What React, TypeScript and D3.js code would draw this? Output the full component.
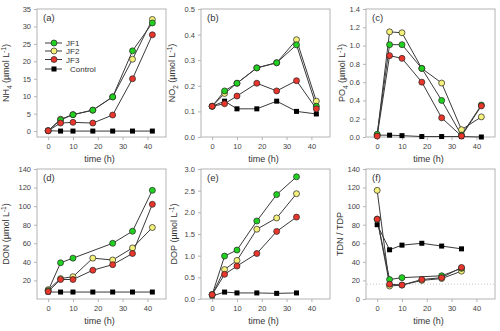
import React, { useEffect, useRef } from 'react'
import * as d3 from 'd3'

// sampling times (h)
const times = [0, 5, 10, 18, 26, 34, 42]

// (a) NH4
const nh4JF1 = [0.1, 3.2, 4.7, 6.0, 9.8, 23.0, 31.0]
const nh4JF2 = [0.1, 3.4, 4.7, 6.0, 9.8, 20.6, 32.0]
const nh4JF3 = [0.1, 2.3, 2.5, 2.3, 4.6, 15.0, 27.6]
const nh4Control = [0.1, 0.0, 0.0, 0.0, 0.0, 0.0, 0.0]

// (b) NO2
const no2JF1 = [0.12, 0.18, 0.21, 0.27, 0.29, 0.36, 0.12]
const no2JF2 = [0.12, 0.17, 0.21, 0.27, 0.29, 0.38, 0.14]
const no2JF3 = [0.12, 0.13, 0.16, 0.21, 0.18, 0.22, 0.11]
const no2Control = [0.12, 0.14, 0.11, 0.11, 0.14, 0.10, 0.09]

// (c) PO4
const po4JF1 = [0.03, 1.01, 1.01, 0.75, 0.40, 0.02, 0.35]
const po4JF2 = [0.02, 1.15, 1.14, 0.75, 0.59, 0.08, 0.22]
const po4JF3 = [0.01, 0.89, 0.86, 0.60, 0.21, 0.01, 0.34]
const po4Control = [0.02, 0.02, 0.015, 0.005, 0.005, 0.005, 0.0]

// (d) DON
const donJF1 = [9, 39, 44, null, 60, 73, 117]
const donJF2 = [10, 22, 24, 44, 42, 55, 77]
const donJF3 = [8, 21, 21, 31, 37, 49, 102]
const donControl = [7.5, 7.5, 7.5, 7.5, 7.5, 7.5, 7.5]

// (e) DOP
const dopJF1 = [0.1, 0.99, 1.13, 1.80, 2.41, 2.82, null]
const dopJF2 = [0.1, 0.68, 0.89, 1.61, 1.87, 2.43, null]
const dopJF3 = [0.1, 0.57, 0.76, 1.05, 1.56, 1.89, null]
const dopControl = [0.07, 0.16, 0.14, 0.14, 0.13, 0.14, null]

// (f) TDN / TDP
const ratioJF1 = [86, 21, 23, null, 25, 33, null]
const ratioJF2 = [117, 14, 15, 20, 22, 30, null]
const ratioJF3 = [86, 16, 15, 21, 23, 34, null]
const ratioControl = [80, 53, 58, 60, 57, 54, null]
const redfield = 16

const xTicks = [0, 10, 20, 30, 40]

const colors = { JF1: '#22d022', JF2: '#f4f07a', JF3: '#e8362c', Control: '#000' }
const legendNames = ['JF1', 'JF2', 'JF3', 'Control']

const panels = [
  { label: '(a)', title: ['NH', '4'], unit: true, x: 37, y: 9, h: 128, dom: [-1.7, 35], ticks: d3.range(0, 36, 5), fmt: d3.format('d'), tOff: 28,
    series: { JF1: nh4JF1, JF2: nh4JF2, JF3: nh4JF3, Control: nh4Control }, legend: true },
  { label: '(b)', title: ['NO', '2'], unit: true, x: 201, y: 9, h: 128, dom: [0, 0.5], ticks: d3.range(0, 0.51, 0.1), fmt: d3.format('.1f'), tOff: 26,
    series: { JF1: no2JF1, JF2: no2JF2, JF3: no2JF3, Control: no2Control } },
  { label: '(c)', title: ['PO', '4'], unit: true, x: 366, y: 9, h: 128, dom: [0, 1.4], ticks: d3.range(0, 1.41, 0.2), fmt: d3.format('.1f'), tOff: 21,
    series: { JF1: po4JF1, JF2: po4JF2, JF3: po4JF3, Control: po4Control } },
  { label: '(d)', title: ['DON', ''], unit: true, x: 37, y: 169, h: 130, dom: [0, 140], ticks: d3.range(20, 141, 20), fmt: d3.format('d'), tOff: 28,
    series: { JF1: donJF1, JF2: donJF2, JF3: donJF3, Control: donControl } },
  { label: '(e)', title: ['DOP', ''], unit: true, x: 201, y: 169, h: 130, dom: [0, 3], ticks: d3.range(0, 3.01, 0.5), fmt: d3.format('.1f'), tOff: 24,
    series: { JF1: dopJF1, JF2: dopJF2, JF3: dopJF3, Control: dopControl } },
  { label: '(f)', title: ['TDN / TDP', ''], unit: false, x: 366, y: 169, h: 130, dom: [0, 140], ticks: d3.range(0, 141, 20), fmt: d3.format('d'), tOff: 23,
    series: { JF1: ratioJF1, JF2: ratioJF2, JF3: ratioJF3, Control: ratioControl }, ref: redfield },
]

const W = 129
const font = '"Liberation Sans", Arial, sans-serif'
const textColor = '#333'

function App() {
  const ref = useRef(null)

  useEffect(() => {
    const svg = d3.select(ref.current)
    svg.selectAll('*').remove()

    panels.forEach((p) => {
      const x = d3.scaleLinear().domain([-4.5, 47.5]).range([p.x, p.x + W])
      const y = d3.scaleLinear().domain(p.dom).range([p.y + p.h, p.y])
      const g = svg.append('g')

      // frame
      g.append('rect')
        .attr('x', p.x).attr('y', p.y).attr('width', W).attr('height', p.h)
        .attr('fill', 'none').attr('stroke', '#b4b4b4').attr('stroke-width', 1)

      const yAxis = d3.axisLeft(y).tickValues(p.ticks).tickFormat(p.fmt).tickSize(3).tickPadding(3)
      const ya = g.append('g').attr('transform', `translate(${p.x},0)`).call(yAxis)
      const xAxis = d3.axisBottom(x).tickValues(xTicks).tickSize(3).tickPadding(4)
      const xa = g.append('g').attr('transform', `translate(0,${p.y + p.h})`).call(xAxis)
      ;[ya, xa].forEach((a) => {
        a.select('.domain').remove()
        a.selectAll('line').attr('stroke', '#b4b4b4')
        a.selectAll('text').attr('fill', '#444').style('font-family', font).style('font-size', '7.5px')
      })

      // x title
      g.append('text')
        .attr('x', p.x + W / 2 - 2).attr('y', p.y + p.h + 25)
        .attr('text-anchor', 'middle').attr('fill', textColor)
        .style('font-family', font).style('font-size', '9px').style('font-weight', 'normal')
        .text('time (h)')

      // y title
      const yt = g.append('text')
        .attr('transform', `translate(${p.x - p.tOff},${p.y + p.h / 2}) rotate(-90)`)
        .attr('text-anchor', 'middle').attr('fill', textColor)
        .style('font-family', font).style('font-size', '9px').style('font-weight', 'normal')
      yt.append('tspan').text(p.title[0])
      if (p.title[1]) yt.append('tspan').attr('dy', 2.5).style('font-size', '6.5px').text(p.title[1])
      if (p.unit) {
        yt.append('tspan').attr('dy', p.title[1] ? -2.5 : 0).text(' (µmol L')
        yt.append('tspan').attr('dy', -3.5).style('font-size', '6.5px').text('-1')
        yt.append('tspan').attr('dy', 3.5).text(')')
      }

      // panel label
      g.append('text')
        .attr('x', p.x + 6).attr('y', p.y + 12)
        .attr('fill', textColor)
        .style('font-family', font).style('font-size', '9.5px')
        .text(p.label)

      if (p.ref !== undefined) {
        g.append('line')
          .attr('x1', p.x + 1).attr('x2', p.x + W - 1)
          .attr('y1', y(p.ref)).attr('y2', y(p.ref))
          .attr('stroke', '#c8c8c8').attr('stroke-dasharray', '1,2')
      }

      const order = ['Control', 'JF2', 'JF1', 'JF3']
      const line = d3.line().x((d) => x(d[0])).y((d) => y(d[1]))
      const pts = (name) => times.map((t, i) => [t, p.series[name][i]]).filter((d) => d[1] !== null)

      order.forEach((name) => {
        g.append('path').attr('d', line(pts(name)))
          .attr('fill', 'none').attr('stroke', '#3a3a3a').attr('stroke-width', 1)
      })
      order.forEach((name) => {
        pts(name).forEach((d) => {
          if (name === 'Control') {
            g.append('rect').attr('x', x(d[0]) - 2.5).attr('y', y(d[1]) - 2.5)
              .attr('width', 5).attr('height', 5).attr('fill', '#000')
          } else {
            g.append('circle').attr('cx', x(d[0])).attr('cy', y(d[1])).attr('r', 3)
              .attr('fill', colors[name]).attr('stroke', '#222').attr('stroke-width', 0.7)
          }
        })
      })

      if (p.legend) {
        const ly = [43, 51, 59.5, 69]
        legendNames.forEach((name, i) => {
          g.append('line').attr('x1', 45).attr('x2', 62).attr('y1', ly[i]).attr('y2', ly[i])
            .attr('stroke', '#3a3a3a')
          if (name === 'Control') {
            g.append('rect').attr('x', 51.5).attr('y', ly[i] - 2.5).attr('width', 5).attr('height', 5).attr('fill', '#000')
          } else {
            g.append('circle').attr('cx', 54).attr('cy', ly[i]).attr('r', 3)
              .attr('fill', colors[name]).attr('stroke', '#222').attr('stroke-width', 0.7)
          }
          g.append('text').attr('x', name === 'Control' ? 70 : 66).attr('y', ly[i] + 3)
            .attr('fill', textColor).style('font-family', font).style('font-size', '8px')
            .text(name)
        })
      }
    })
  }, [])

  return (
    <svg ref={ref} width={500} height={331}
      style={{ position: 'absolute', left: 0, top: 0, background: '#fff' }} />
  )
}

export default App
